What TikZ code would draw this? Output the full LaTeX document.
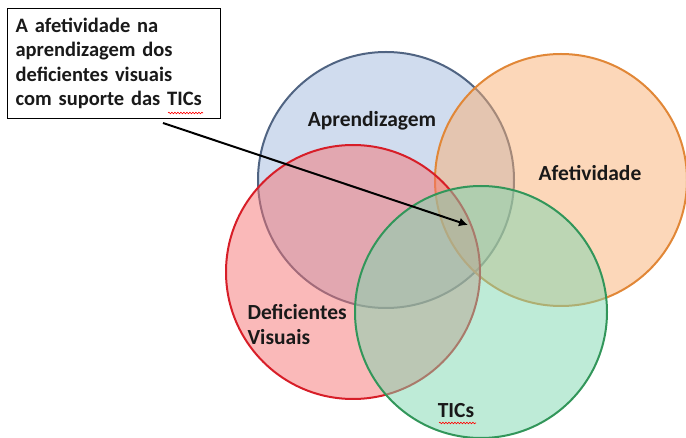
\documentclass[tikz,border=0pt]{standalone}
\usepackage{fontspec}
\setmainfont{Carlito}
\usetikzlibrary{arrows.meta,decorations.pathmorphing}

\definecolor{aprfill}{RGB}{161,185,221}
\definecolor{aprline}{RGB}{80,100,130}
\definecolor{afefill}{RGB}{249,175,115}
\definecolor{afeline}{RGB}{225,135,55}
\definecolor{dvfill}{RGB}{245,115,115}
\definecolor{dvline}{RGB}{215,30,40}
\definecolor{ticfill}{RGB}{125,215,175}
\definecolor{ticline}{RGB}{50,150,90}

\begin{document}
\begin{tikzpicture}[x=1pt,y=-1pt,
  setcirc/.style={line width=2pt, fill opacity=0.5},
  setlabel/.style={font=\fontsize{21.5}{25}\selectfont\bfseries, text=black!90},
  squiggle/.style={red, line width=0.6pt, decorate,
    decoration={snake, amplitude=0.8pt, segment length=3pt}}
]
  \useasboundingbox (0,0) rectangle (686,438);

  % the four sets
  \filldraw[setcirc, draw=aprline, fill=aprfill] (386,180) circle (128pt);
  \filldraw[setcirc, draw=afeline, fill=afefill] (561,180) circle (126pt);
  \filldraw[setcirc, draw=dvline, fill=dvfill] (353,272) circle (127pt);
  \filldraw[setcirc, draw=ticline, fill=ticfill] (481,312) circle (126pt);

  % set names
  \node[setlabel] (apr) at (372,121) {Aprendizagem};
  \node[setlabel] (afe) at (590,173) {Afetividade};
  \node[setlabel, align=left, anchor=west] (dv) at (244,325) {Deficientes\\Visuais};
  \node[setlabel] (tic) at (456,411) {TICs};
  \draw[squiggle] (439,423) -- (476,423);

  % annotation box
  \node[draw, line width=1.2pt, fill=white, anchor=north west,
        text width=197pt, align=left, inner xsep=8pt, inner ysep=9pt,
        minimum height=110pt,
        font=\fontsize{20.5}{24.5}\selectfont\bfseries, text=black!90]
        (box) at (7,8)
        {A afetividade na\\aprendizagem dos\\deficientes visuais\\com suporte das TICs};
  \draw[squiggle] (168,113) -- (203,113);

  % arrow into the common region
  \coordinate (start) at (163,123);
  \coordinate (tip) at (468,225);
  \draw[line width=2pt, -{Latex[length=9pt,width=9pt]}] (start) -- (tip);

\end{tikzpicture}
\end{document}
